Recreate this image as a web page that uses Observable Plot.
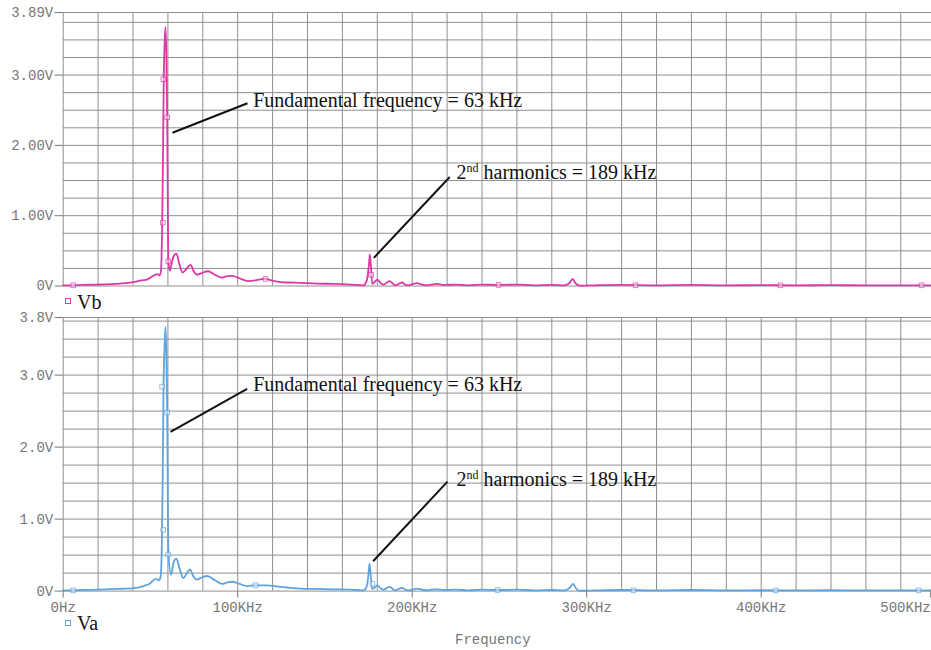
<!DOCTYPE html>
<html><head><meta charset="utf-8">
<script src="https://cdn.jsdelivr.net/npm/d3@7"></script>
<script src="https://cdn.jsdelivr.net/npm/@observablehq/plot@0.6"></script>
<style>
body{margin:0;background:#fff;}
#wrap{position:relative;width:931px;height:650px;overflow:hidden;background:#fff;}
#wrap svg{position:absolute;left:0;}
.leg{position:absolute;font-family:"Liberation Serif",serif;font-size:20px;line-height:20px;color:#111;white-space:nowrap;}
.sq{position:absolute;width:4px;height:4px;border:1px solid;}
#xlabel{position:absolute;font-family:"Liberation Mono",monospace;font-size:14px;line-height:14px;color:#777;white-space:nowrap;}
</style></head><body><div id="wrap"></div>
<script>
// ---------- axis ticks ----------
const xTickValues = [0, 100, 200, 300, 400, 500]; // kHz
const xTickLabels = ["0Hz", "100KHz", "200KHz", "300KHz", "400KHz", "500KHz"];
const xTitle = "Frequency";
const yTicksB = [0, 1, 2, 3, 3.89];
const yTickLabelsB = ["0V", "1.00V", "2.00V", "3.00V", "3.89V"];
const yTicksA = [0, 1, 2, 3, 3.8];
const yTickLabelsA = ["0V", "1.0V", "2.0V", "3.0V", "3.8V"];

// ---------- series Vb (top) ----------
const freqB = [0,5,10,20,30,40,45,48,50,52,54,55.2,56,56.6,57.1,57.6,58.2,58.6,59.1,59.6,60.0,60.3,61.0,62.0,63.2,64.9,66.5,68.4,70.5,73,75,76.6,79,83,87,90.7,94,97,101,105.9,110,115.4,121,127.4,136,145,155,165,172,174,175.2,175.7,176.3,177.1,178.6,180,182,183.7,185.5,187.2,189,190.4,192.3,194.3,196,198,200.5,202.9,205.5,208.6,211,214.3,218,225,232,240,250,260,270,280,287,290,292,293.5,296,305,320,340,360,380,400,420,440,460,480,500];
const vb    = [0.01,0.01,0.015,0.02,0.03,0.055,0.08,0.09,0.12,0.15,0.17,0.15,0.2,0.7,1.6,2.9,3.5,3.68,3.3,2.4,1.0,0.35,0.22,0.30,0.42,0.46,0.32,0.19,0.24,0.30,0.20,0.16,0.18,0.21,0.16,0.12,0.14,0.145,0.11,0.07,0.08,0.10,0.07,0.05,0.045,0.035,0.03,0.02,0.01,0.08,0.3,0.45,0.3,0.03,0.06,0.09,0.04,0.02,0.05,0.07,0.03,0.01,0.03,0.05,0.02,0.01,0.03,0.04,0.02,0.01,0.02,0.03,0.015,0.02,0.01,0.02,0.015,0.02,0.01,0.015,0.01,0.04,0.10,0.04,0.005,0.01,0.015,0.01,0.015,0.01,0.012,0.01,0.012,0.01,0.01,0.01];
const markFreqB = [5.7, 57.1, 57.4, 59.6, 60.2, 115.9, 176.5, 249.5, 328, 411, 491.9];
const markVB    = [0.01, 0.9, 2.94, 2.40, 0.35, 0.10, 0.16, 0.015, 0.01, 0.01, 0.01];

// ---------- series Va (bottom) ----------
const freqA = [0,5,10,20,30,40.5,46,50,52.9,54.8,55.8,56.5,57.0,57.5,58.1,58.6,59.1,59.6,60.1,60.3,61.9,63.3,64.9,66.8,68.8,70.7,72.6,74.5,76.4,79.5,82.5,87,91.1,94,96.8,101,105.4,110.2,116.9,122,128.4,136,145,155,165,172,174,175,175.5,176.1,177,178.6,180,182,183.7,185.5,187.2,189,190.4,192.3,194.3,196,198,200.5,202.9,205.5,208.6,211,214.3,218,225,232,240,250,260,270,280,287,290,292.3,293.8,296,305,320,340,360,380,400,420,440,460,480,500];
const va    = [0.01,0.01,0.015,0.02,0.03,0.04,0.07,0.11,0.17,0.15,0.2,0.6,1.5,2.84,3.4,3.67,3.3,2.48,0.9,0.51,0.23,0.40,0.45,0.30,0.18,0.24,0.30,0.21,0.16,0.19,0.21,0.15,0.10,0.12,0.13,0.10,0.07,0.08,0.08,0.065,0.05,0.035,0.03,0.025,0.02,0.01,0.07,0.25,0.38,0.25,0.03,0.05,0.08,0.035,0.02,0.045,0.06,0.025,0.01,0.03,0.045,0.02,0.01,0.025,0.035,0.02,0.01,0.02,0.025,0.015,0.02,0.01,0.02,0.015,0.02,0.01,0.015,0.01,0.04,0.10,0.04,0.005,0.01,0.015,0.01,0.015,0.01,0.012,0.01,0.012,0.01,0.01,0.01];
const markFreqA = [5.7, 56.7, 57.3, 59.6, 60.2, 110.2, 177.2, 248.9, 326.8, 408.3, 490.2];
const markVA    = [0.01, 2.84, 0.85, 2.48, 0.51, 0.08, 0.10, 0.015, 0.01, 0.01, 0.01];

// ---------- annotations ----------
const annotTexts = ["Fundamental frequency = 63 kHz", "2nd harmonics = 189 kHz"];
const annotXB = [108.9, 225.4], annotYB = [2.63, 1.62];
const leadX1B = [62.6, 178], leadY1B = [2.18, 0.40], leadX2B = [105.6, 221.5], leadY2B = [2.60, 1.55];
const annotXA = [108.9, 225.4], annotYA = [2.875, 1.555];
const leadX1A = [61.5, 177.6], leadY1A = [2.21, 0.415], leadX2A = [105.4, 220.2], leadY2A = [2.81, 1.52];

const colorB = "#dc38a6", colorA = "#5ea4de";
const gridColor = "#8f8f8f", tickColor = "#777";

function chart(o) {
  const line = o.freq.map((f, i) => ({f, v: o.volts[i]}));
  const marks = o.mf.map((f, i) => ({f, v: o.mv[i]}));
  const ann = annotTexts.map((t, i) => ({t, x: o.ax[i], y: o.ay[i]}));
  const leads = o.lx1.map((d, i) => ({x1: d, y1: o.ly1[i], x2: o.lx2[i], y2: o.ly2[i]}));
  const gx = d3.range(0, 501, 20);
  const gy = d3.range(0, o.yMax, 0.25).concat([o.yMax]);
  const m = [
    Plot.ruleX(gx, {stroke: gridColor, strokeWidth: 1}),
    Plot.ruleY(gy, {stroke: gridColor, strokeWidth: 1}),
    Plot.axisY(o.yTicks, {tickFormat: d => o.yLabels[o.yTicks.indexOf(d)], tickSize: 8, tickPadding: 2, color: tickColor, fontSize: 14, fontFamily: "Liberation Mono"}),
    Plot.line(line, {x: "f", y: "v", stroke: o.color, strokeWidth: 1.8, curve: "monotone-x"}),
    Plot.dot(marks, {x: "f", y: "v", symbol: "square", r: 2.6, stroke: o.color, strokeOpacity: 0.7, fill: "white", fillOpacity: 0.4, strokeWidth: 1}),
    Plot.link(leads, {x1: "x1", y1: "y1", x2: "x2", y2: "y2", stroke: "#111", strokeWidth: 2}),
    Plot.text(ann, {x: "x", y: "y", text: "t", textAnchor: "start", lineAnchor: "middle", fontSize: 20, fontFamily: "Liberation Serif", fill: "#111"})
  ];
  if (o.showX) {
    m.push(Plot.axisX(xTickValues.slice(0, 5), {tickFormat: d => xTickLabels[xTickValues.indexOf(d)], tickSize: 7, tickPadding: 4, color: tickColor, fontSize: 14, fontFamily: "Liberation Mono"}));
    m.push(Plot.axisX(xTickValues.slice(5), {tickFormat: d => xTickLabels[xTickValues.indexOf(d)], tickSize: 7, tickPadding: 4, textAnchor: "end", dx: -5, color: tickColor, fontSize: 14, fontFamily: "Liberation Mono"}));
  }
  const svg = Plot.plot({
    width: 931, height: o.height,
    marginLeft: 62.7, marginRight: -4.2, marginTop: 12, marginBottom: o.marginBottom,
    x: {domain: [0, 500], axis: null},
    y: {domain: [0, o.yMax], axis: null},
    style: {background: "transparent", overflow: "visible"},
    marks: m
  });
  d3.select(svg).selectAll("text").filter(function(){ return this.textContent === annotTexts[1]; }).each(function(){
    const t = d3.select(this);
    t.text(null);
    t.append("tspan").text("2");
    t.append("tspan").attr("dy", -7).attr("font-size", 12).text("nd");
    t.append("tspan").attr("dy", 7).text(" harmonics = 189 kHz");
  });
  svg.style.top = o.top + "px";
  return svg;
}

const wrap = document.getElementById("wrap");
wrap.appendChild(chart({freq: freqB, volts: vb, mf: markFreqB, mv: markVB, color: colorB, yMax: 3.89, yTicks: yTicksB, yLabels: yTickLabelsB,
  ax: annotXB, ay: annotYB, lx1: leadX1B, ly1: leadY1B, lx2: leadX2B, ly2: leadY2B, showX: false, height: 300, marginBottom: 14.5, top: 0}));
wrap.appendChild(chart({freq: freqA, volts: va, mf: markFreqA, mv: markVA, color: colorA, yMax: 3.8, yTicks: yTicksA, yLabels: yTickLabelsA,
  ax: annotXA, ay: annotYA, lx1: leadX1A, ly1: leadY1A, lx2: leadX2A, ly2: leadY2A, showX: true, height: 320, marginBottom: 34.4, top: 305}));

function legend(name, color, top) {
  const sq = document.createElement("div");
  sq.className = "sq"; sq.style.borderColor = color; sq.style.left = "65px"; sq.style.top = (top + 6.5) + "px";
  wrap.appendChild(sq);
  const t = document.createElement("div");
  t.className = "leg"; t.textContent = name; t.style.left = "77px"; t.style.top = top + "px";
  wrap.appendChild(t);
}
legend("Vb", colorB, 291.5);
legend("Va", colorA, 613.3);
const xl = document.createElement("div");
xl.id = "xlabel"; xl.textContent = xTitle; xl.style.left = "455px"; xl.style.top = "632.5px";
wrap.appendChild(xl);
</script></body></html>
